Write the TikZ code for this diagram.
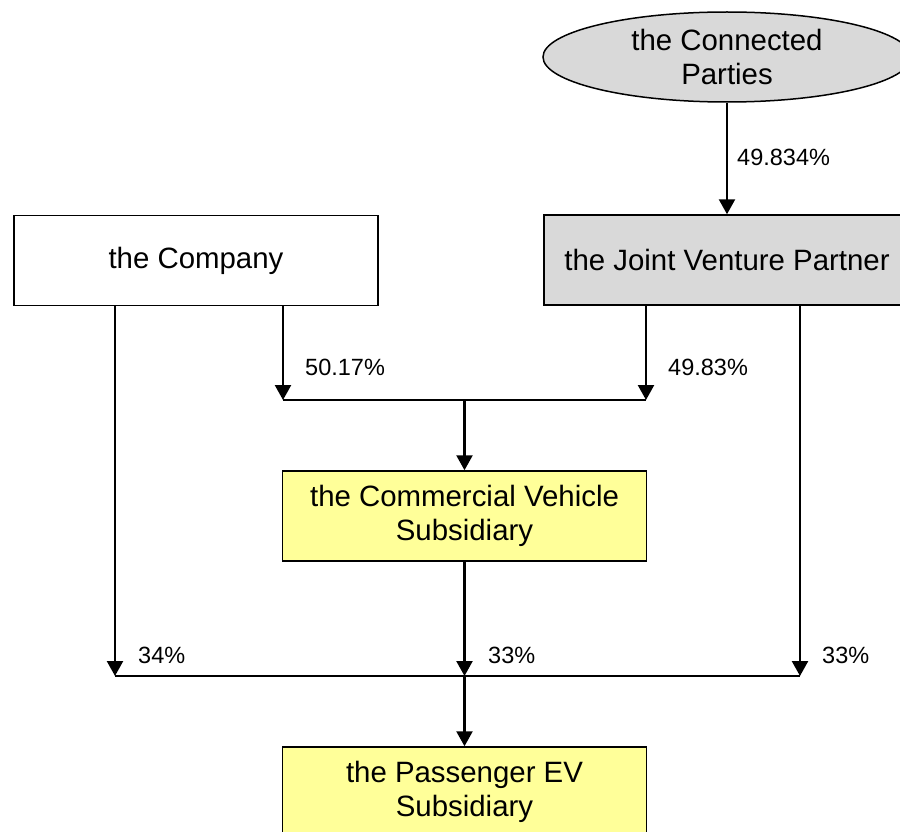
\documentclass[tikz,border=0pt]{standalone}
\usepackage{fontspec}
\setmainfont{Liberation Sans}
\usetikzlibrary{arrows.meta,shapes.geometric}

\definecolor{boxgrey}{HTML}{D9D9D9}
\definecolor{boxyellow}{HTML}{FFFF99}
\tikzset{
  entity/.style={draw=black, line width=1.5pt, rectangle, minimum width=364pt,
    minimum height=90pt, align=center, inner sep=0pt,
    font=\fontsize{29.4}{34}\selectfont},
  greyfill/.style={fill=boxgrey},
  yellowfill/.style={fill=boxyellow},
  arr/.style={line width=2.4pt, -{Triangle[width=16pt,length=15pt]}},
  junction/.style={line width=1.6pt},
  pct/.style={anchor=west, inner sep=0pt, font=\fontsize{23.5}{28}\selectfont}
}

\begin{document}
\begin{tikzpicture}[x=1pt, y=-1pt]
  \useasboundingbox (0,0) rectangle (900,832);
  \clip (0,0) rectangle (900,832);

  % entities
  \node[draw=black, line width=1.5pt, ellipse, fill=boxgrey, minimum width=368pt,
        minimum height=90pt, inner sep=0pt, align=center,
        font=\fontsize{29.4}{34}\selectfont] (cp) at (727,57) {the Connected\\Parties};
  \node[entity] (co) at (196,260.5) {the Company};
  \node[entity, greyfill, minimum width=366pt] (jv) at (727,260) {the Joint Venture Partner};
  \node[entity, yellowfill] (cv) at (464.5,516) {the Commercial Vehicle\\Subsidiary};
  \node[entity, yellowfill] (pev) at (464.5,792) {the Passenger EV\\Subsidiary};

  % junction points
  \coordinate (j1l) at (283,400);
  \coordinate (j1m) at (464.5,400);
  \coordinate (j1r) at (646,400);
  \coordinate (j2l) at (115,676);
  \coordinate (j2m) at (464.5,676);
  \coordinate (j2r) at (800,676);

  % ownership of the joint venture partner
  \draw[arr] (cp.south) -- (jv.north);
  \node[pct] (l1) at (737,157) {49.834\%};

  % ownership of the commercial vehicle subsidiary
  \draw[arr] (j1l |- co.south) -- (j1l);
  \draw[arr] (j1r |- jv.south) -- (j1r);
  \draw[junction] (j1l) -- (j1r);
  \draw[arr] (j1m) -- (cv.north);
  \node[pct] (l2) at (305,367) {50.17\%};
  \node[pct] (l3) at (668,367) {49.83\%};

  % ownership of the passenger EV subsidiary
  \draw[arr] (j2l |- co.south) -- (j2l);
  \draw[arr] (cv.south) -- (j2m);
  \draw[arr] (j2r |- jv.south) -- (j2r);
  \draw[junction] (j2l) -- (j2r);
  \draw[arr] (j2m) -- (pev.north);
  \node[pct] (l4) at (138,655) {34\%};
  \node[pct] (l5) at (488,655) {33\%};
  \node[pct] (l6) at (822,655) {33\%};
\end{tikzpicture}
\end{document}
